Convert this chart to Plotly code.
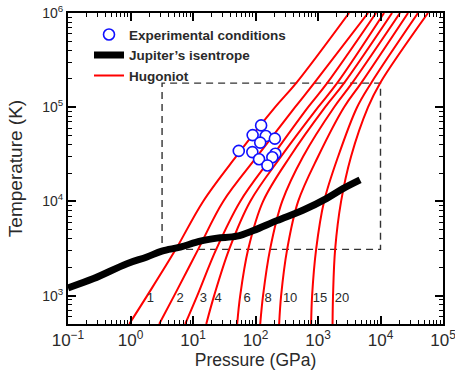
import math
import plotly.graph_objects as go

# ---- Hugoniot curves: pressure (GPa) at a shared set of temperatures (K)
hug_T = [500, 1000, 3100, 1.0e4, 3.0e4, 1.0e5, 1.8e5, 1.0e6]
hug_names = ["1", "2", "3", "4", "6", "8", "10", "15", "20"]
hug_1_P = [0.955, 1.85, 5.3, 14.5, 49.1, 206, 447, 3140]
hug_2_P = [2.88, 5.00, 12.1, 30.4, 106, 430, 867, 6320]
hug_3_P = [7.50, 11.7, 23.5, 56.9, 185, 695, 1400, 8490]
hug_4_P = [16.3, 21.8, 37.9, 82.2, 257, 1004, 2020, 11400]
hug_6_P = [50.9, 56.9, 76.4, 132, 358, 1300, 2610, 15300]
hug_8_P = [119, 132, 171, 267, 578, 1810, 3510, 20500]
hug_10_P = [239, 257, 321, 481, 1004, 2610, 4890, 27600]
hug_15_P = [776, 805, 933, 1250, 2100, 4220, 7060, 39800]
hug_20_P = [1710, 1740, 1880, 2340, 3380, 6320, 9840, 57500]

# curve labels placed just right of each Hugoniot near the bottom
label_P = [2.07, 6.24, 14.6, 25.3, 73.5, 159, 358, 1080, 2430]
label_T = 930

# ---- Jupiter's isentrope
isen_P = [0.1, 0.257, 0.877, 1.83, 3.18, 6.24, 13.0, 24.1, 50.3, 92.7,
          219, 584, 1384, 2548, 4710]
isen_T = [1208, 1517, 2183, 2570, 2974, 3276, 3791, 4077, 4278, 4907,
          6255, 8110, 10790, 13750, 16940]

# ---- Experimental conditions
exp_P = [123, 90, 146, 204, 119, 54, 89, 208, 114, 186, 155]
exp_T = [64100, 50600, 49400, 46400, 42100, 34400, 33400, 32100, 28000,
         29400, 24100]

# ---- Dashed region of interest
box_P = [3.2, 1.0e4, 1.0e4, 3.2, 3.2]
box_T = [3100, 3100, 1.8e5, 1.8e5, 3100]

# ---- Axis ticks (decades)
x_exponents = [-1, 0, 1, 2, 3, 4, 5]
y_exponents = [3, 4, 5, 6]

FONT = "Liberation Sans, Arial, Helvetica, sans-serif"
TXT = "#2a2a2a"


def decade_ticks(exps):
    vals = [10.0 ** e for e in exps]
    text = ["10<sup>%s</sup>" % str(e).replace("-", "\u2212") for e in exps]
    return vals, text


def minor_ticks(lo, hi):
    return [m * 10.0 ** e for e in range(lo, hi) for m in range(2, 10)]


fig = go.Figure()

fig.add_trace(go.Scatter(
    x=box_P, y=box_T, mode="lines", showlegend=False, hoverinfo="skip",
    line=dict(color="#333333", width=1.4, dash="7px,5px")))

hug_P = [hug_1_P, hug_2_P, hug_3_P, hug_4_P, hug_6_P, hug_8_P,
         hug_10_P, hug_15_P, hug_20_P]
for i, (name, pvals) in enumerate(zip(hug_names, hug_P)):
    fig.add_trace(go.Scatter(
        x=pvals, y=hug_T, mode="lines", name="Hugoniot",
        showlegend=(i == 0), legendrank=3,
        line=dict(color="#ff0000", width=2, shape="spline", smoothing=1.0)))

fig.add_trace(go.Scatter(
    x=isen_P, y=isen_T, mode="lines", name="Jupiter\u2019s isentrope",
    legendrank=2, line=dict(color="black", width=7, shape="spline")))

fig.add_trace(go.Scatter(
    x=exp_P, y=exp_T, mode="markers", name="Experimental conditions",
    legendrank=1,
    marker=dict(symbol="circle", size=11, color="white",
                line=dict(color="#1010ff", width=1.6))))

fig.add_trace(go.Scatter(
    x=label_P, y=[label_T] * len(label_P), mode="text", text=hug_names,
    showlegend=False, hoverinfo="skip",
    textfont=dict(family=FONT, size=13, color=TXT)))

axis_common = dict(
    type="log", showgrid=False, zeroline=False,
    showline=True, linecolor="black", linewidth=2, mirror="allticks",
    ticks="inside", ticklen=8, tickwidth=1.5, tickcolor="black",
    ticklabeloverflow="allow",
)

xv, xt = decade_ticks(x_exponents)
yv, yt = decade_ticks(y_exponents)

fig.update_xaxes(
    **axis_common,
    range=[-1, 5], tickmode="array", tickvals=xv, ticktext=xt,
    minor=dict(ticks="inside", ticklen=4, tickwidth=1, tickcolor="black",
               tickmode="array", tickvals=minor_ticks(-1, 5), showgrid=False),
    tickfont=dict(family=FONT, size=17, color=TXT),
    title=dict(text="Pressure (GPa)", standoff=2,
               font=dict(family=FONT, size=17.5, color=TXT)),
)
fig.update_yaxes(
    **axis_common,
    range=[math.log10(500), 6], tickmode="array", tickvals=yv, ticktext=yt,
    minor=dict(ticks="inside", ticklen=4, tickwidth=1, tickcolor="black",
               tickmode="array", tickvals=minor_ticks(2, 6), showgrid=False),
    tickfont=dict(family=FONT, size=14, color=TXT),
    title=dict(text="Temperature (K)", standoff=15,
               font=dict(family=FONT, size=19, color=TXT)),
)

fig.update_layout(
    width=455, height=375,
    margin=dict(l=68, r=12, t=13, b=51, autoexpand=False),
    paper_bgcolor="white", plot_bgcolor="white",
    legend=dict(x=0.056, y=0.98, xanchor="left", yanchor="top",
                bgcolor="rgba(0,0,0,0)", borderwidth=0,
                font=dict(family=FONT, size=13.5, color=TXT, weight="bold"),
                tracegroupgap=0, itemwidth=30),
    showlegend=True,
)

fig.write_html("out.html")
